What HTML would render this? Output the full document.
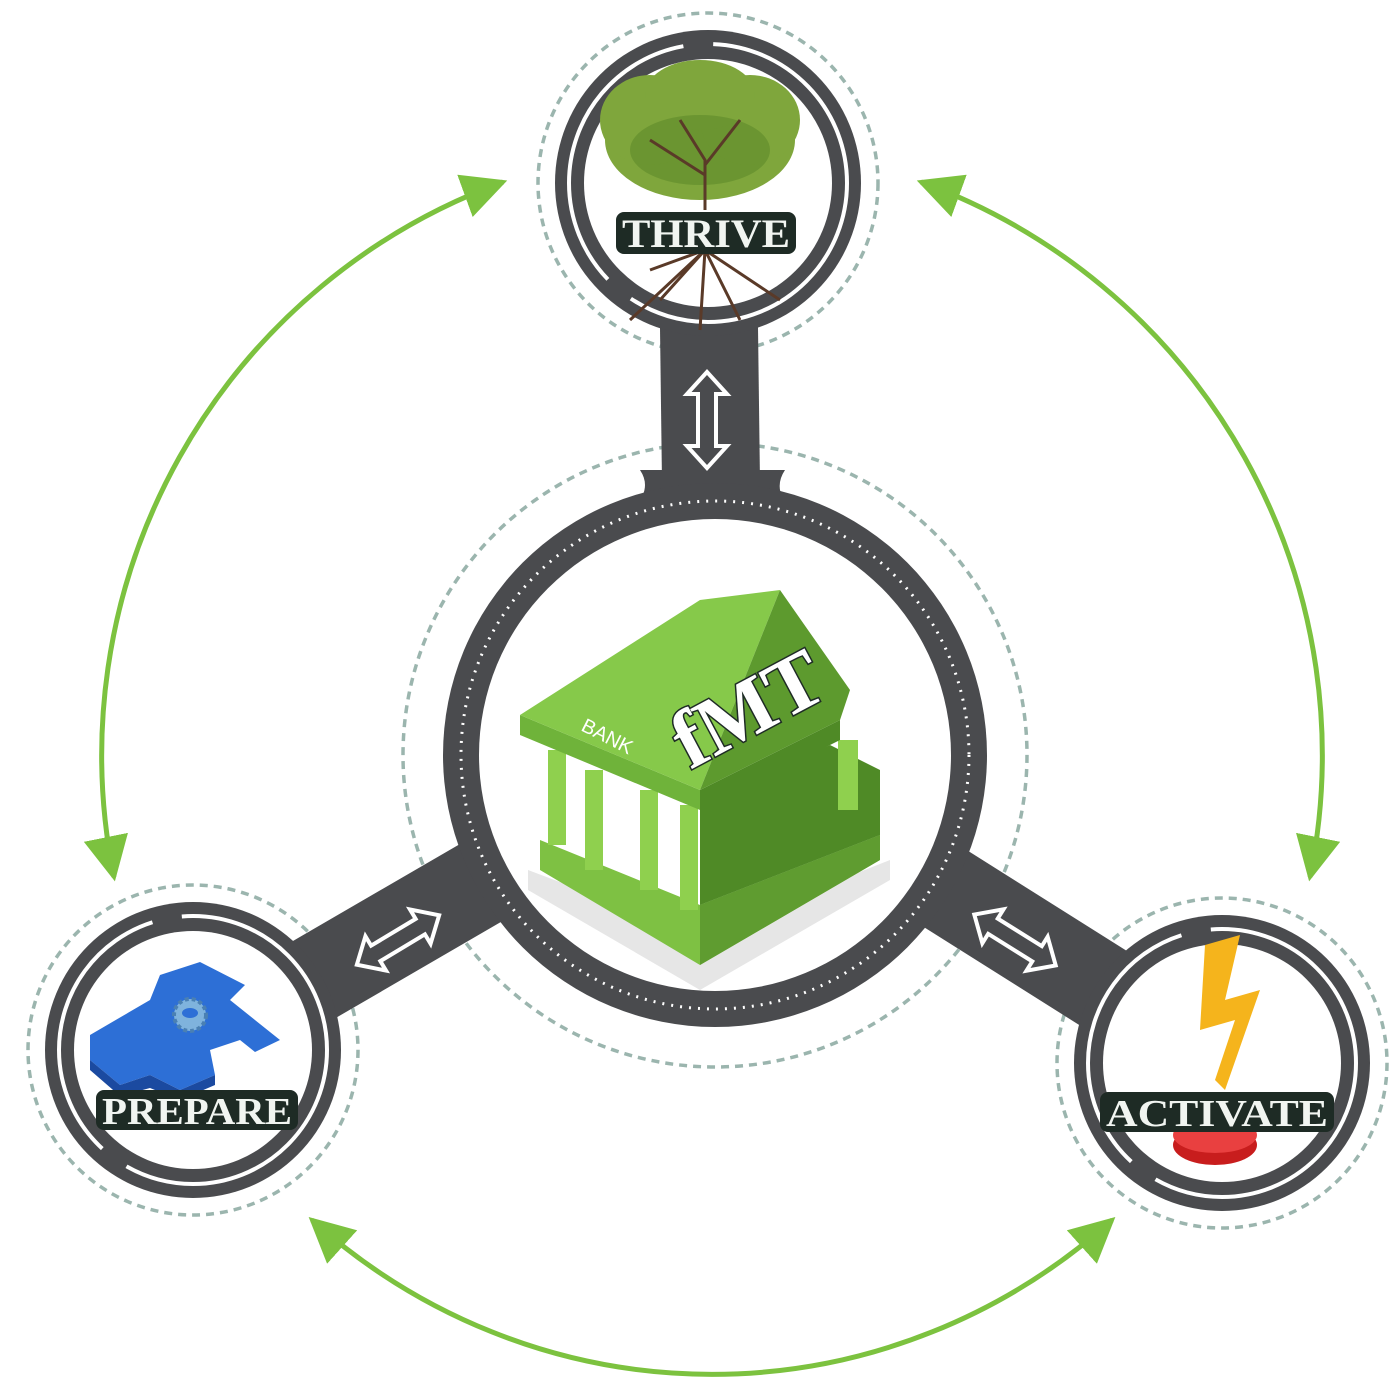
<!DOCTYPE html>
<html><head><meta charset="utf-8"><style>html,body{margin:0;padding:0;background:#fff}svg{display:block}</style></head>
<body>
<svg width="1400" height="1400" viewBox="0 0 1400 1400" xmlns="http://www.w3.org/2000/svg">
<defs>
<marker id="a" viewBox="0 0 10 10" refX="9" refY="5" markerWidth="9" markerHeight="9" orient="auto-start-reverse"><path d="M0,0 L10,5 L0,10 z" fill="#7cc23f"/></marker>
<g id="dbl">
<polygon points="-48,0 -26,-20 -26,-9 26,-9 26,-20 48,0 26,20 26,9 -26,9 -26,20" fill="#4a4b4e" stroke="#fff" stroke-width="4" stroke-linejoin="miter"/>
</g>
</defs>

<g fill="none" stroke="#7cc23f" stroke-width="5">
<path d="M503,182 A610 610 0 0 0 114,877" marker-start="url(#a)" marker-end="url(#a)"/>
<path d="M921,182 A610 610 0 0 1 1310,877" marker-start="url(#a)" marker-end="url(#a)"/>
<path d="M312,1220 A610 630 0 0 0 1112,1220" marker-start="url(#a)" marker-end="url(#a)"/>
</g>

<g fill="none" stroke="#9bb5ae" stroke-width="3.5" stroke-dasharray="8 6">
<circle cx="715" cy="755" r="312"/>
<circle cx="708" cy="183" r="170"/>
<circle cx="193" cy="1050" r="165"/>
<circle cx="1222" cy="1063" r="165"/>
</g>

<g stroke="#4a4b4e" stroke-linecap="butt">
<line x1="708" y1="250" x2="712" y2="560" stroke-width="98"/>
<line x1="193" y1="1050" x2="520" y2="860" stroke-width="88"/>
<line x1="1222" y1="1063" x2="900" y2="860" stroke-width="88"/>
</g>
<path d="M640,470 Q660,500 600,530 L820,530 Q765,500 785,470 Z" fill="#4a4b4e"/>

<circle cx="715" cy="755" r="272" fill="#4a4b4e"/>
<circle cx="715" cy="755" r="254" fill="none" stroke="#fff" stroke-width="3" stroke-dasharray="2 7"/>
<circle cx="715" cy="755" r="236" fill="#fff"/>

<g>
<circle cx="708" cy="183" r="153" fill="#4a4b4e"/>
<circle cx="708" cy="183" r="139" fill="none" stroke="#fff" stroke-width="4" stroke-dasharray="300 30"/>
<circle cx="708" cy="183" r="124" fill="#fff"/>
<circle cx="193" cy="1050" r="148" fill="#4a4b4e"/>
<circle cx="193" cy="1050" r="134" fill="none" stroke="#fff" stroke-width="4" stroke-dasharray="280 30"/>
<circle cx="193" cy="1050" r="119" fill="#fff"/>
<circle cx="1222" cy="1063" r="148" fill="#4a4b4e"/>
<circle cx="1222" cy="1063" r="134" fill="none" stroke="#fff" stroke-width="4" stroke-dasharray="280 30"/>
<circle cx="1222" cy="1063" r="119" fill="#fff"/>
</g>

<use href="#dbl" transform="translate(707,420) rotate(90)"/>
<use href="#dbl" transform="translate(398,940) rotate(-31)"/>
<use href="#dbl" transform="translate(1015,940) rotate(32)"/>

<g>
<g fill="#7fa63c">
<ellipse cx="700" cy="140" rx="95" ry="60"/>
<ellipse cx="650" cy="120" rx="50" ry="45"/>
<ellipse cx="750" cy="120" rx="50" ry="45"/>
<ellipse cx="700" cy="95" rx="55" ry="35"/>
</g>
<g fill="#5e8a2a" opacity="0.6"><ellipse cx="700" cy="150" rx="70" ry="35"/></g>
<g stroke="#5a3a28" stroke-width="3" fill="none">
<path d="M705,210 L705,160 L680,120 M705,165 L740,120 M705,175 L650,140"/>
<path d="M705,250 L660,300 M705,250 L630,320 M705,250 L700,330 M705,250 L740,320 M705,250 L780,300 M705,250 L650,270"/>
</g>
</g>
<rect x="616" y="212" width="180" height="42" rx="8" fill="#1e2b25"/>
<text x="706" y="247" text-anchor="middle" font-family="Liberation Serif, serif" font-weight="bold" font-size="40" fill="#f1f5f1" textLength="168" lengthAdjust="spacingAndGlyphs">THRIVE</text>

<g>
<path d="M90,1035 L150,1000 L160,975 L200,962 L245,985 L230,1000 L280,1040 L255,1052 L240,1040 L210,1050 L215,1075 L180,1090 L150,1075 L120,1085 L90,1060 Z" fill="#2d6fd6"/>
<path d="M90,1060 L120,1085 L150,1075 L180,1090 L215,1075 L215,1085 L180,1100 L150,1088 L120,1096 L90,1070 Z" fill="#1b4aa0"/>
<circle cx="190" cy="1015" r="16" fill="#7fb3dd" stroke="#4a80b3" stroke-width="4" stroke-dasharray="4 3"/>
<ellipse cx="190" cy="1013" rx="8" ry="5" fill="#2d6fd6"/>
</g>
<rect x="96" y="1090" width="202" height="40" rx="8" fill="#1e2b25"/>
<text x="197" y="1124" text-anchor="middle" font-family="Liberation Serif, serif" font-weight="bold" font-size="38" fill="#f1f5f1" textLength="190" lengthAdjust="spacingAndGlyphs">PREPARE</text>

<g>
<ellipse cx="1215" cy="1145" rx="42" ry="20" fill="#c81d1d"/>
<ellipse cx="1215" cy="1135" rx="42" ry="18" fill="#e94040"/>
<polygon points="1205,945 1240,935 1225,1000 1260,990 1225,1090 1215,1080 1235,1020 1200,1030" fill="#f5b41c"/>
</g>
<rect x="1100" y="1092" width="234" height="40" rx="8" fill="#1e2b25"/>
<text x="1217" y="1126" text-anchor="middle" font-family="Liberation Serif, serif" font-weight="bold" font-size="38" fill="#f1f5f1" textLength="222" lengthAdjust="spacingAndGlyphs">ACTIVATE</text>

<g>
<polygon points="528,870 700,935 890,860 890,880 700,990 528,890" fill="#e6e6e6"/>
<polygon points="540,840 700,905 880,835 880,860 700,965 540,870" fill="#7ec143"/>
<polygon points="700,905 880,835 880,860 700,965" fill="#5f9c30"/>
<polygon points="700,800 830,745 880,770 880,835 700,905" fill="#4f8a26"/>
<g fill="#8fd04e">
<rect x="548" y="750" width="18" height="95"/>
<rect x="585" y="770" width="18" height="100"/>
<rect x="640" y="790" width="18" height="100"/>
<rect x="680" y="805" width="18" height="105"/>
<rect x="838" y="740" width="20" height="70"/>
</g>
<polygon points="520,715 700,790 700,810 520,735" fill="#6fb33a"/>
<polygon points="520,715 700,600 780,590 700,790" fill="#86c94a"/>
<polygon points="700,790 780,590 850,690 840,720" fill="#5d9a2e"/>
<polygon points="700,790 840,720 840,740 700,810" fill="#4f8a26"/>
<text x="0" y="0" transform="translate(580,730) rotate(27)" font-family="Liberation Sans, sans-serif" font-size="20" fill="#fff">BANK</text>
<text x="0" y="0" transform="translate(690,770) rotate(-28)" font-family="Liberation Serif, serif" font-weight="bold" font-size="82" fill="#fff" stroke="#1e2b25" stroke-width="3" paint-order="stroke">fMT</text>
</g>
</svg>
</body></html>
